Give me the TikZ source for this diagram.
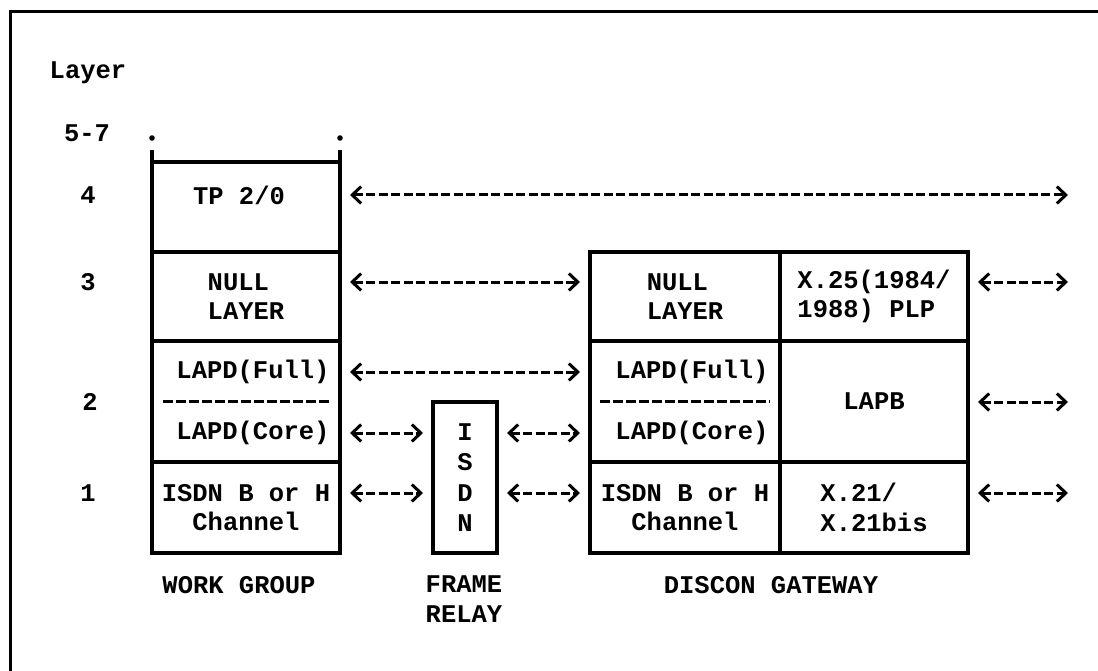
\documentclass[tikz,border=0pt]{standalone}
\usepackage{fontspec}
\setmonofont{Liberation Mono}
\usetikzlibrary{positioning, arrows.meta}

\begin{document}
\begin{tikzpicture}[
    x=1pt, y=-1pt,
    every node/.style={font=\fontsize{25.5}{29.5}\selectfont\ttfamily\bfseries, inner sep=0pt, outer sep=0pt},
    cell/.style={draw, line width=3.2pt, minimum width=188pt, align=center},
    wide/.style={cell, minimum width=190pt},
    link/.style={{Straight Barb[length=9pt, width=17pt]}-{Straight Barb[length=9pt, width=17pt]}, line width=3pt, dash pattern=on 9pt off 3.5pt, shorten <=10pt, shorten >=10pt},
    split/.style={line width=3pt, dash pattern=on 10pt off 3pt}
]
\useasboundingbox (0,0) rectangle (1098,671);
\draw[line width=3pt] (10,671) -- (10,12) -- (1098,12);

\node (layer) at (88,73) {Layer};
\node (n57) at (87,133) {5-7};
\node (n4) at (88,195) {4};
\node (n3) at (88,282) {3};
\node (n2) at (90,402) {2};
\node (n1) at (88,493) {1};

\node[cell, minimum height=90pt] (tp) at (246,207) {};
\node[cell, minimum height=89pt, align=left, below=0pt of tp] (wnull) {NULL\\LAYER};
\node[cell, minimum height=121pt, below=0pt of wnull] (wlapd) {};
\node[cell, minimum height=91pt, below=0pt of wlapd] (wisdn) {ISDN B or H\\Channel};
\node (tptext) at (239,195) {TP 2/0};
\node (wfull) at (253,372) {LAPD(Full)};
\node (wcore) at (253,433) {LAPD(Core)};

\node[cell, minimum width=64pt, minimum height=151pt, font=\fontsize{25.5}{30.3}\selectfont\ttfamily\bfseries] (isdn) at (465,477.5) {I\\S\\D\\N};

\node[wide, minimum height=89pt, align=left] (gnull) at (685,296.5) {NULL\\LAYER};
\node[cell, minimum height=89pt, align=left, right=0pt of gnull] (gx25) {X.25(1984/\\1988) PLP};
\node[wide, minimum height=121pt, below=0pt of gnull] (glapd) {};
\node[cell, minimum height=121pt, right=0pt of glapd] (glapb) {LAPB};
\node[wide, minimum height=91pt, below=0pt of glapd] (gisdn) {ISDN B or H\\Channel};
\node[cell, minimum height=91pt, align=left, right=0pt of gisdn] (gx21) {X.21/\\X.21bis};
\node (gfull) at (692,372) {LAPD(Full)};
\node (gcore) at (692,433) {LAPD(Core)};

\node (wg) at (239,585) {WORK GROUP};
\node[align=center] (fr) at (464,599) {FRAME\\RELAY};
\node (dg) at (771,585) {DISCON GATEWAY};

\draw[split] ([xshift=11pt]wlapd.west) -- ([xshift=-9pt]wlapd.east);
\draw[split] ([xshift=10pt]glapd.west) -- ([xshift=-10pt]glapd.east);

\draw[line width=3.2pt] (tp.north west) -- ++(0,-12);
\draw[line width=3.2pt] (tp.north east) -- ++(0,-12);
\fill (tp.north west) ++(0,-24) circle (2.8pt);
\fill (tp.north east) ++(0,-24) circle (2.8pt);

\coordinate (r4) at (0,195);
\coordinate (r3) at (0,282);
\coordinate (rf) at (0,372);
\coordinate (r2) at (0,402);
\coordinate (rc) at (0,433);
\coordinate (r1) at (0,493);
\coordinate (far) at (1078,0);

\draw[link] (tp.east |- r4) -- (far |- r4);
\draw[link] (wnull.east |- r3) -- (gnull.west |- r3);
\draw[link] (gx25.east |- r3) -- (far |- r3);
\draw[link] (wlapd.east |- rf) -- (glapd.west |- rf);
\draw[link] (wlapd.east |- rc) -- (isdn.west |- rc);
\draw[link] (isdn.east |- rc) -- (glapd.west |- rc);
\draw[link] (glapb.east |- r2) -- (far |- r2);
\draw[link] (wisdn.east |- r1) -- (isdn.west |- r1);
\draw[link] (isdn.east |- r1) -- (gisdn.west |- r1);
\draw[link] (gx21.east |- r1) -- (far |- r1);
\end{tikzpicture}
\end{document}
